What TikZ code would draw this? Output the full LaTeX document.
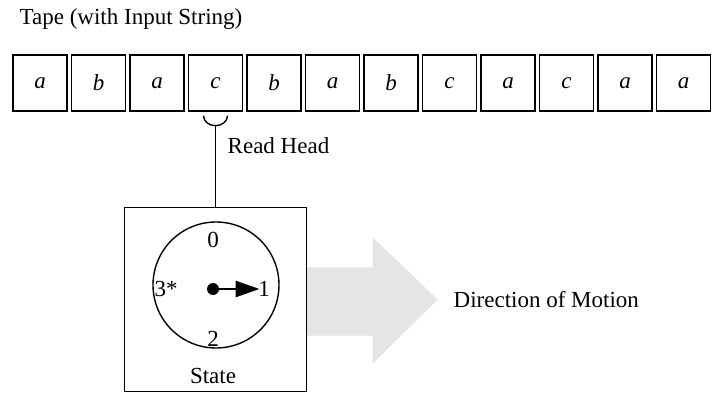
\documentclass[tikz,border=0pt]{standalone}
\usepackage{fontspec}
\setmainfont{Liberation Serif}
\usetikzlibrary{positioning, arrows.meta}

\tikzset{
  cell/.style={rectangle, draw, line width=0.7pt, minimum width=27pt, minimum height=28pt, inner sep=0pt, font=\fontsize{11.5}{13}\selectfont\itshape},
  lbl/.style={inner sep=0pt, font=\fontsize{11.5}{13}\selectfont},
  dialnum/.style={inner sep=0pt, font=\fontsize{11.5}{13}\selectfont},
}

\begin{document}
\begin{tikzpicture}[x=0.5pt, y=-0.5pt, line width=0.7pt]
  \useasboundingbox (0,0) rectangle (715,394);

  % the tape
  \foreach \s [count=\i from 0] in {a,b,a,c,b,a,b,c,a,c,a,a}
    \node[cell] (c\i) at (40+58.5*\i, 83) {\s};
  \node[lbl, anchor=west] (tape) at (19, 19) {Tape (with Input String)};

  % direction of motion (behind the box)
  \node[rectangle, draw, fill=white, minimum width=90.5pt, minimum height=91.5pt] (state) at (215.5, 299.5) {};
  \fill[black!10] (state.east) ++(0,-32) coordinate (a1) -- ++(66,0) -- ++(0,-30) -- ++(65,62) -- ++(-65,64) -- ++(0,-28) -- ++(-66,0) -- cycle;
  \draw[fill=white] (state.south west) rectangle (state.north east);
  \node[lbl, anchor=west] (dir) at (453, 300) {Direction of Motion};

  % read head
  \coordinate (cupL) at ([xshift=-6pt, yshift=-2pt]c3.south);
  \coordinate (cupB) at ([yshift=-7pt]c3.south);
  \draw (cupL) arc[start angle=180, end angle=360, x radius=6pt, y radius=5pt];
  \draw (cupB) -- (state.north);
  \node[lbl, anchor=west] (head) at (227, 146) {Read Head};

  % state dial
  \node[circle, draw, minimum size=63pt, inner sep=0pt] (dial) at (216, 285) {};
  \node[dialnum] (n0) at (213, 240) {0};
  \node[dialnum] (n1) at (264, 289) {1};
  \node[dialnum] (n2) at (213, 339) {2};
  \node[dialnum] (n3) at (166, 289) {3*};
  \node[lbl] (slbl) at (213, 376) {State};
  \coordinate (hub) at (213, 289);
  \fill (hub) circle (3pt);
  \draw[-{Triangle[length=12pt,width=8pt]}, line width=1.3pt] (hub) -- ([xshift=1pt]n1.west);
\end{tikzpicture}
\end{document}
